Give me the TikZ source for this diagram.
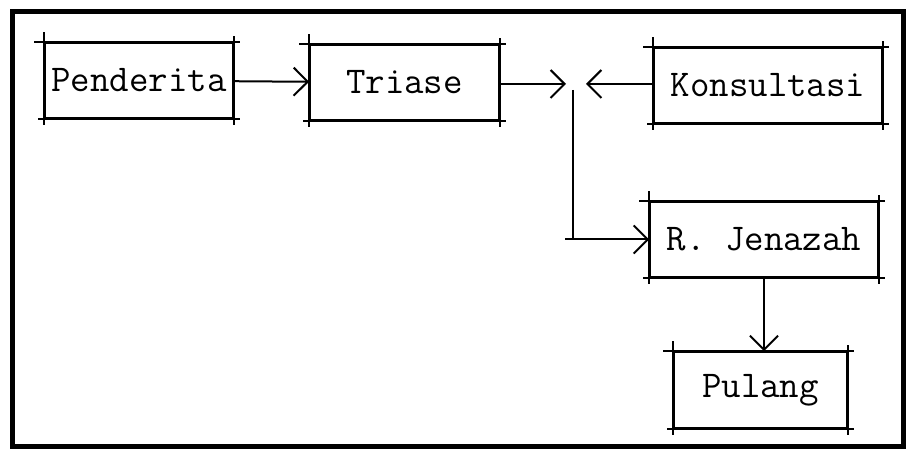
\documentclass[tikz,border=0pt]{standalone}
\usepackage{fontspec}
\usetikzlibrary{arrows.meta}

\begin{document}
\begin{tikzpicture}[
    x=0.5pt, y=-0.5pt,
    block/.style={rectangle, draw=black, line width=0.9pt, inner sep=0pt, minimum height=37.5pt, font=\ttfamily\fontsize{18.9}{22}\selectfont},
    arrow/.style={-{Straight Barb[length=7pt, width=14pt]}, line width=1pt}
]
    \useasboundingbox (0,0) rectangle (912,454);
    \draw[line width=2.5pt] (12,12) rectangle (903,447);

    \node[block, minimum width=94pt] (pend) at (139,80.5) {Penderita};
    \node[block, minimum width=94.5pt] (tri) at (404.5,82.5) {Triase};
    \node[block, minimum width=114pt] (kons) at (768,85.5) {Konsultasi};
    \node[block, minimum width=114pt] (jen) at (764,239.5) {R. Jenazah};
    \node[block, minimum width=86.5pt, minimum height=38pt] (pul) at (760.5,390) {Pulang};

    % typewriter corners
    \foreach \n in {pend,tri,kons,jen,pul}{
        \draw[line width=0.9pt] ([xshift=-5pt]\n.north west) -- ([xshift=3pt]\n.north east);
        \draw[line width=0.9pt] ([xshift=-3pt]\n.south west) -- ([xshift=3pt]\n.south east);
        \draw[line width=0.9pt] ([yshift=5pt]\n.north west) -- ([yshift=-3pt]\n.south west);
        \draw[line width=0.9pt] ([yshift=3pt]\n.north east) -- ([yshift=-3pt]\n.south east);
    }

    \coordinate (jl) at (566,84);
    \coordinate (jr) at (586,84);
    \coordinate (jv) at (573,90);
    \coordinate (jc) at (565,237);

    \draw[arrow] (pend) -- (tri);
    \draw[arrow] (tri.east |- jl) -- (jl);
    \draw[arrow] (kons.west |- jr) -- (jr);
    \draw[line width=1pt] (jv) -- (jv |- jen.west);
    \draw[arrow] (jc |- jen.west) -- (jen.west);
    \draw[arrow] (jen.south) -- (jen.south |- pul.north);
\end{tikzpicture}
\end{document}
